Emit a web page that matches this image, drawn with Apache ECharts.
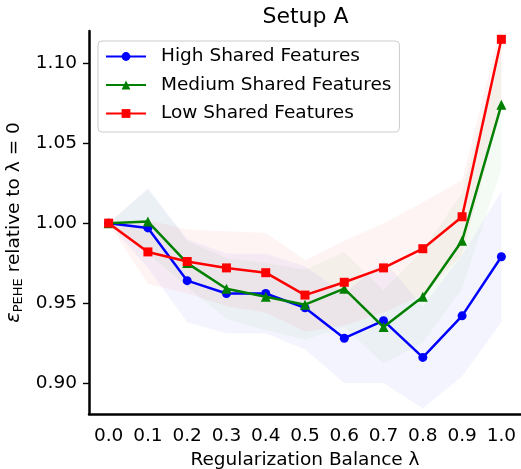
<!DOCTYPE html>
<html>
<head>
<meta charset="utf-8">
<script src="https://cdn.jsdelivr.net/npm/echarts@6/dist/echarts.min.js"></script>
<style>html,body{margin:0;padding:0;background:#fff}#c{width:521px;height:469px}</style>
</head>
<body>
<div id="c"></div>
<script>
const categories = ['0.0','0.1','0.2','0.3','0.4','0.5','0.6','0.7','0.8','0.9','1.0'];
const yTicks = [0.90, 0.95, 1.00, 1.05, 1.10];

const highMean  = [1.000, 0.997, 0.964, 0.956, 0.956, 0.947, 0.928, 0.939, 0.916, 0.942, 0.979];
const highLower = [1.000, 0.972, 0.938, 0.931, 0.931, 0.921, 0.900, 0.900, 0.884, 0.904, 0.938];
const highUpper = [1.000, 1.022, 0.990, 0.981, 0.981, 0.973, 0.956, 0.977, 0.948, 0.980, 1.020];

const medMean  = [1.000, 1.001, 0.975, 0.959, 0.954, 0.949, 0.959, 0.935, 0.954, 0.989, 1.074];
const medLower = [1.000, 0.981, 0.960, 0.940, 0.933, 0.927, 0.935, 0.912, 0.925, 0.959, 1.034];
const medUpper = [1.000, 1.021, 0.989, 0.978, 0.975, 0.971, 0.982, 0.958, 0.983, 1.019, 1.114];

const lowMean  = [1.000, 0.982, 0.976, 0.972, 0.969, 0.955, 0.963, 0.972, 0.984, 1.004, 1.115];
const lowLower = [1.000, 0.962, 0.956, 0.948, 0.944, 0.932, 0.936, 0.944, 0.955, 0.980, 1.072];
const lowUpper = [1.000, 1.002, 0.996, 0.995, 0.994, 0.977, 0.989, 1.000, 1.013, 1.027, 1.125];

const names = ['High Shared Features', 'Medium Shared Features', 'Low Shared Features'];
const colors = ['#0000ff', '#008000', '#ff0000'];
const symbols = ['circle', 'triangle', 'rect'];
const sizes = [9, 10, 9];
const means = [highMean, medMean, lowMean];
const lowers = [highLower, medLower, lowLower];
const uppers = [highUpper, medUpper, lowUpper];

const FS = 18.5;
const series = [];
for (let i = 0; i < 3; i++) {
  series.push({
    type: 'line', stack: 'band' + i, data: lowers[i], symbol: 'none', silent: true,
    lineStyle: { opacity: 0 }, z: 1, animation: false
  });
  series.push({
    type: 'line', stack: 'band' + i, data: uppers[i].map((u, k) => +(u - lowers[i][k]).toFixed(4)),
    symbol: 'none', silent: true, lineStyle: { opacity: 0 },
    areaStyle: { color: colors[i], opacity: 0.045 }, z: 1, animation: false
  });
}
for (let i = 0; i < 3; i++) {
  series.push({
    name: names[i], type: 'line', data: means[i], symbol: symbols[i], symbolSize: sizes[i],
    showSymbol: true, color: colors[i],
    lineStyle: { color: colors[i], width: 2.5 },
    itemStyle: { color: colors[i] }, z: 3 + i, animation: false
  });
}

const chart = echarts.init(document.getElementById('c'), null, { renderer: 'canvas' });
chart.setOption({
  animation: false,
  textStyle: { fontFamily: 'DejaVu Sans' },
  grid: { left: 89, right: 0, top: 31, bottom: 55, outerBoundsMode: 'none', containLabel: false },
  graphic: [{
    type: 'text', x: 305.5, y: 17,
    style: { text: 'Setup A', fontSize: 22, fontFamily: 'DejaVu Sans', fill: '#000', align: 'center', verticalAlign: 'middle' }
  }],
  legend: {
    data: names, orient: 'vertical', left: 98, top: 41,
    padding: [6, 8, 9, 7], itemGap: 9.5, itemWidth: 40, itemHeight: 11,
    backgroundColor: 'rgba(255,255,255,0.8)', borderColor: '#cccccc', borderWidth: 1, borderRadius: 4,
    textStyle: { fontSize: FS, fontFamily: 'DejaVu Sans', color: '#000', lineHeight: 18, padding: [0, 0, 0, 10] }
  },
  xAxis: {
    type: 'category', data: categories, boundaryGap: true,
    name: 'Regularization Balance λ', nameLocation: 'middle', nameGap: 34,
    nameTextStyle: { fontSize: FS, fontFamily: 'DejaVu Sans', color: '#000' },
    axisLine: { lineStyle: { color: '#000', width: 2.5 } },
    axisTick: { alignWithLabel: true, length: 6, lineStyle: { color: '#000', width: 1.4 } },
    axisLabel: { fontSize: FS, fontFamily: 'DejaVu Sans', color: '#000', margin: 13, interval: 0 },
    splitLine: { show: false }
  },
  yAxis: {
    type: 'value', min: 0.8806, max: 1.1202,
    name: '{e|ε}{s|PEHE} relative to λ = 0', nameLocation: 'middle', nameGap: 57, nameRotate: 90,
    nameTextStyle: {
      fontSize: FS, fontFamily: 'DejaVu Sans', color: '#000',
      rich: {
        e: { fontSize: 19.5, fontStyle: 'italic', fontFamily: 'DejaVu Sans', color: '#000', lineHeight: 22, verticalAlign: 'middle' },
        s: { fontSize: 13, fontFamily: 'DejaVu Sans', color: '#000', lineHeight: 22, verticalAlign: 'bottom' }
      }
    },
    axisLine: { show: true, lineStyle: { color: '#000', width: 2.5 } },
    axisTick: { show: true, length: 6, customValues: yTicks, lineStyle: { color: '#000', width: 1.4 } },
    axisLabel: { fontSize: FS, fontFamily: 'DejaVu Sans', color: '#000', margin: 12, customValues: yTicks, formatter: v => v.toFixed(2) },
    splitLine: { show: false }
  },
  series: series
});
</script>
</body>
</html>
